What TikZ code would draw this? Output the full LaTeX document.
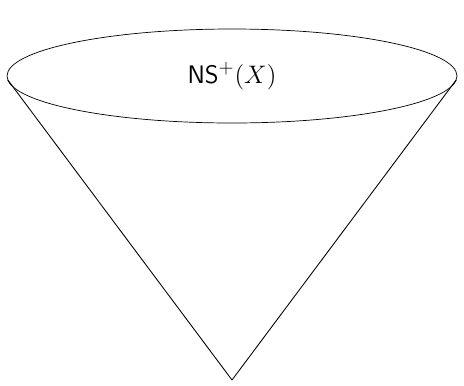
\documentclass[tikz,border=0pt]{standalone}
\usepackage{amsmath}
\usepackage{tikz}
\usetikzlibrary{shapes.geometric,positioning}

\begin{document}
\begin{tikzpicture}[
    rim/.style={ellipse, draw, minimum width=9cm, minimum height=1.88cm, inner sep=0pt, outer sep=0pt, font=\fontsize{15.4}{18}\selectfont},
    side/.style={line width=0.5pt}
]
    \useasboundingbox (-4.64,-6.18) rectangle (4.64,1.52);
    \node[rim] (cone) at (0,0) {$\mathsf{NS}^{+}(X)$};
    \coordinate (tip) at (0,-6.08);

    \draw[side] (cone.-1.87) -- (tip);
    \draw[side] (cone.181.87) -- (tip);
\end{tikzpicture}
\end{document}
